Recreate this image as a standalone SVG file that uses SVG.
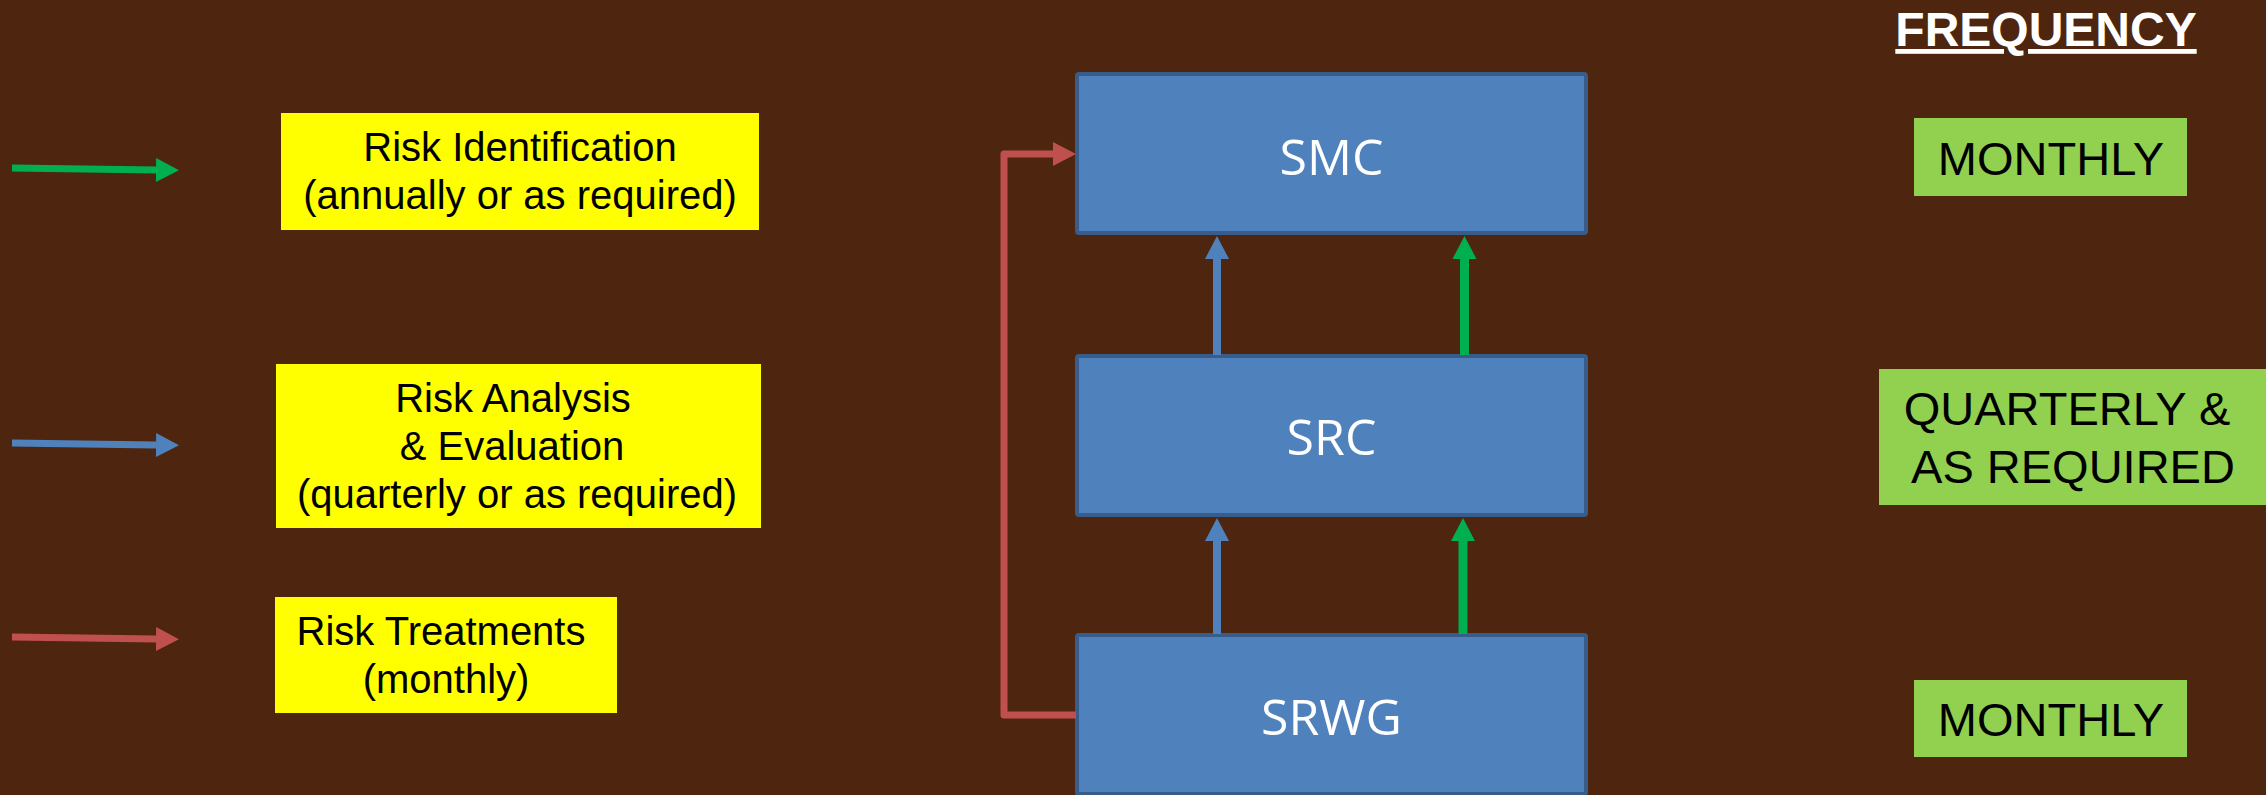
<svg xmlns="http://www.w3.org/2000/svg" width="2266" height="795" viewBox="0 0 2266 795">
  <defs>
    <style>
      .bg { fill: #4E250E; }
      .yellow { fill: #FFFF00; }
      .freq { fill: #92D050; }
      .node { fill: #4F81BD; stroke: #385D8A; stroke-width: 4; }
      .ytxt { font-family: "Liberation Sans", Arial, sans-serif; font-size: 40px; fill: #000; text-anchor: middle; }
      .gtxt { font-family: "Liberation Sans", Arial, sans-serif; font-size: 47px; fill: #000; text-anchor: middle; }
      .ntxt { font-family: "Open Sans", "Noto Sans", sans-serif; font-size: 50px; fill: #FFFFFF; text-anchor: middle; }
      .title { font-family: "Liberation Sans", Arial, sans-serif; font-size: 48px; font-weight: bold; fill: #FFFFFF; text-anchor: middle; text-decoration: underline; }
      .g { stroke: #00B050; fill: none; }
      .b { stroke: #4F81BD; fill: none; }
      .r { stroke: #C0504D; fill: none; }
    </style>
    <marker id="mg" markerUnits="userSpaceOnUse" markerWidth="24" markerHeight="24" refX="0" refY="12" orient="auto" viewBox="0 0 24 24">
      <path d="M0,0 L23,12 L0,24 Z" fill="#00B050"/>
    </marker>
    <marker id="mb" markerUnits="userSpaceOnUse" markerWidth="24" markerHeight="24" refX="0" refY="12" orient="auto" viewBox="0 0 24 24">
      <path d="M0,0 L23,12 L0,24 Z" fill="#4F81BD"/>
    </marker>
    <marker id="mr" markerUnits="userSpaceOnUse" markerWidth="24" markerHeight="24" refX="0" refY="12" orient="auto" viewBox="0 0 24 24">
      <path d="M0,0 L23,12 L0,24 Z" fill="#C0504D"/>
    </marker>
  </defs>

  <rect class="bg" x="0" y="0" width="2266" height="795"/>

  <g id="title-frequency">
    <text class="title" x="2046" y="46">FREQUENCY</text>
  </g>

  <g id="legend-risk-identification">
    <rect class="yellow" x="281" y="113" width="478" height="117"/>
    <text class="ytxt" x="520" y="161">Risk Identification</text>
    <text class="ytxt" x="520" y="209">(annually or as required)</text>
  </g>

  <g id="legend-risk-analysis">
    <rect class="yellow" x="276" y="364" width="485" height="164"/>
    <text class="ytxt" x="513" y="412">Risk Analysis</text>
    <text class="ytxt" x="512" y="460">&amp; Evaluation</text>
    <text class="ytxt" x="517" y="508">(quarterly or as required)</text>
  </g>

  <g id="legend-risk-treatments">
    <rect class="yellow" x="275" y="597" width="342" height="116"/>
    <text class="ytxt" x="441" y="645">Risk Treatments</text>
    <text class="ytxt" x="446" y="693">(monthly)</text>
  </g>

  <g id="node-smc">
    <rect class="node" x="1077" y="74" width="509" height="159" rx="2"/>
    <text class="ntxt" x="1331.5" y="175">SMC</text>
  </g>

  <g id="node-src">
    <rect class="node" x="1077" y="356" width="509" height="159" rx="2"/>
    <text class="ntxt" x="1331.5" y="455">SRC</text>
  </g>

  <g id="node-srwg">
    <rect class="node" x="1077" y="635" width="509" height="159" rx="2"/>
    <text class="ntxt" x="1331.5" y="735">SRWG</text>
  </g>

  <g id="freq-monthly-1">
    <rect class="freq" x="1914" y="118" width="273" height="78"/>
    <text class="gtxt" x="2051" y="175">MONTHLY</text>
  </g>

  <g id="freq-quarterly">
    <rect class="freq" x="1879" y="369" width="387" height="136"/>
    <text class="gtxt" x="2067" y="425">QUARTERLY &amp;</text>
    <text class="gtxt" x="2073" y="483">AS REQUIRED</text>
  </g>

  <g id="freq-monthly-2">
    <rect class="freq" x="1914" y="680" width="273" height="77"/>
    <text class="gtxt" x="2051" y="736">MONTHLY</text>
  </g>

  <g id="connectors">
    <!-- legend arrows -->
    <line class="g" x1="12" y1="168" x2="156" y2="170" stroke-width="7" marker-end="url(#mg)"/>
    <line class="b" x1="12" y1="443" x2="156" y2="445" stroke-width="7" marker-end="url(#mb)"/>
    <line class="r" x1="12" y1="637" x2="156" y2="639" stroke-width="7" marker-end="url(#mr)"/>

    <!-- SRC to SMC -->
    <line class="b" x1="1217" y1="355" x2="1217" y2="259" stroke-width="8" marker-end="url(#mb)"/>
    <line class="g" x1="1464.5" y1="355" x2="1464.5" y2="259" stroke-width="9" marker-end="url(#mg)"/>

    <!-- SRWG to SRC -->
    <line class="b" x1="1217" y1="634" x2="1217" y2="541" stroke-width="8" marker-end="url(#mb)"/>
    <line class="g" x1="1463" y1="634" x2="1463" y2="541" stroke-width="9" marker-end="url(#mg)"/>

    <!-- SRWG to SMC (risk treatments) -->
    <polyline class="r" points="1076,715 1004,715 1004,154 1053,154" stroke-width="7" stroke-linejoin="round" marker-end="url(#mr)"/>
  </g>
</svg>
